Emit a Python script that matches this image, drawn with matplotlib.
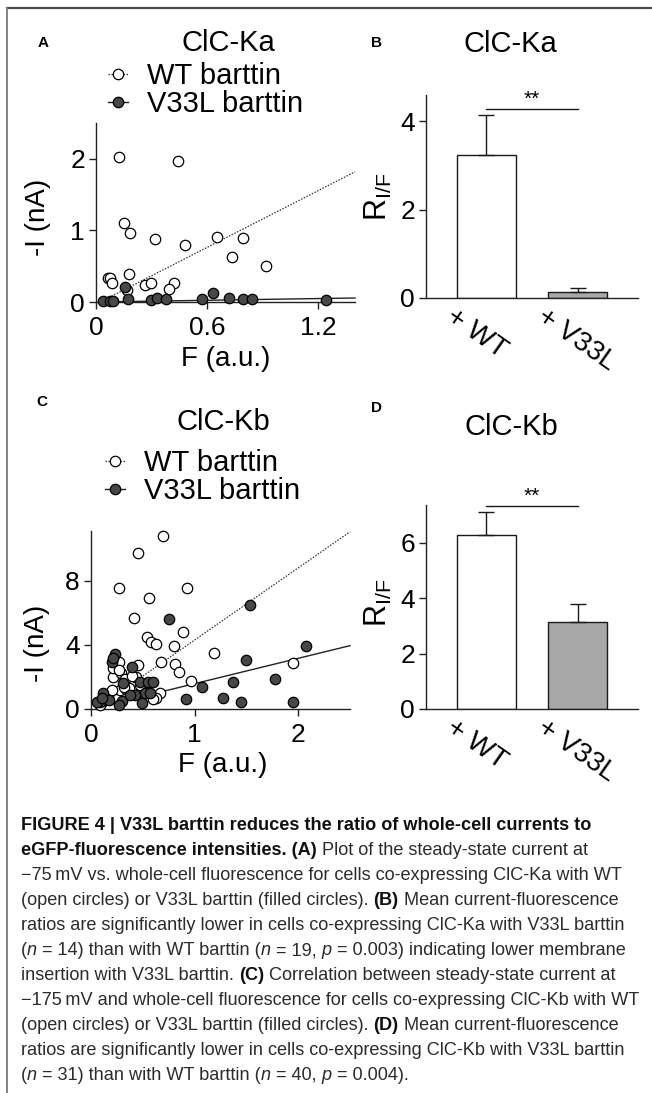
import numpy as np
import matplotlib
matplotlib.use("Agg")
import matplotlib.pyplot as plt
from matplotlib.lines import Line2D
from matplotlib.transforms import ScaledTranslation
from matplotlib import font_manager

# ---- dados ----
# Painel A: ClC-Ka, corrente x fluorescencia
ka_wt_f = [0.126, 0.441, 0.150, 0.184, 0.318, 0.479, 0.654, 0.797, 0.735, 0.918,
           0.063, 0.075, 0.089, 0.181, 0.165, 0.264, 0.296, 0.423, 0.396]
ka_wt_i = [2.02, 1.97, 1.10, 0.97, 0.88, 0.80, 0.91, 0.90, 0.63, 0.50,
           0.34, 0.33, 0.27, 0.39, 0.17, 0.24, 0.27, 0.27, 0.18]
ka_v33l_f = [0.036, 0.075, 0.090, 0.157, 0.175, 0.296, 0.329, 0.378, 0.575, 0.631,
             0.717, 0.797, 0.844, 1.241]
ka_v33l_i = [0.02, 0.02, 0.02, 0.21, 0.04, 0.03, 0.06, 0.04, 0.04, 0.12,
             0.05, 0.04, 0.04, 0.03]
ka_wt_fit = [1.32, -0.03]     # inclinacao, intercepto
ka_v33l_fit = [0.04, 0.0]
ka_fit_range = [0.04, 1.4]

# Painel C: ClC-Kb
kb_wt_f = [0.694, 0.454, 0.269, 0.928, 0.560, 0.413, 0.886, 0.544, 0.576, 0.630,
           0.800, 1.190, 0.269, 0.454, 0.672, 0.810, 0.848, 0.966, 1.950, 0.662,
           0.630, 0.214, 0.285, 0.333, 0.438, 0.278, 0.214, 0.397, 0.342, 0.487,
           0.106, 0.090, 0.477, 0.200, 0.545, 0.268, 0.365, 0.116, 0.316, 0.600]
kb_wt_i = [10.77, 9.73, 7.54, 7.54, 6.92, 5.67, 4.83, 4.52, 4.15, 4.04,
           3.90, 3.52, 2.90, 2.75, 2.96, 2.79, 2.33, 1.75, 2.85, 1.02,
           0.67, 2.02, 2.23, 1.85, 2.02, 1.19, 2.54, 2.06, 1.23, 1.19,
           0.46, 0.25, 1.50, 1.19, 1.04, 2.44, 1.29, 0.56, 1.40, 0.62]
kb_v33l_f = [1.530, 0.752, 1.494, 2.080, 1.776, 1.372, 1.072, 0.918, 1.270, 1.452,
             1.945, 0.230, 0.198, 0.210, 0.397, 0.310, 0.477, 0.550, 0.598, 0.518,
             0.422, 0.566, 0.493, 0.300, 0.269, 0.118, 0.086, 0.176, 0.061, 0.105,
             0.380]
kb_v33l_i = [6.46, 5.63, 3.06, 3.90, 1.88, 1.71, 1.40, 0.63, 0.67, 0.42,
             0.42, 3.44, 2.96, 3.15, 2.65, 1.60, 1.67, 1.67, 1.71, 0.98,
             0.88, 0.98, 0.40, 0.50, 0.25, 0.98, 0.46, 0.56, 0.42, 0.70,
             0.87]
kb_wt_fit = [4.5, -0.2]
kb_v33l_fit = [1.58, 0.0]
kb_fit_range = [0.05, 2.5]

# Paineis B e D: razao I/F (media + SEM)
grupos = ["+ WT", "+ V33L"]
ka_ratio = [3.25, 0.13]
ka_sem = [0.90, 0.09]
kb_ratio = [6.27, 3.16]
kb_sem = [0.83, 0.64]

W, H = 652, 1093
FONTE = ["Liberation Sans", "DejaVu Sans"]
plt.rcParams["font.family"] = FONTE
plt.rcParams["axes.linewidth"] = 1.0

fig = plt.figure(figsize=(W / 100, H / 100), dpi=100)


def eixo_px(x0, x1, y_base, y_topo):
    # posicao dos eixos em pixels (y contado de cima)
    return fig.add_axes([x0 / W, 1 - y_base / H, (x1 - x0) / W, (y_base - y_topo) / H])


def estilo_eixo(ax):
    for lado in ["top", "right"]:
        ax.spines[lado].set_visible(False)
    for lado in ["left", "bottom"]:
        ax.spines[lado].set_color("#222222")
    ax.tick_params(direction="out", length=5, width=1.0, colors="#222222",
                   labelsize=19, labelcolor="black")


def painel_dispersao(ax, wt_f, wt_i, v_f, v_i, wt_fit, v_fit, faixa):
    xs = np.array(faixa)
    ax.plot(xs, wt_fit[0] * xs + wt_fit[1], color="#333333", lw=0.9,
            ls=(0, (1.2, 1.2)), clip_on=False, zorder=2)
    ax.plot(xs, v_fit[0] * xs + v_fit[1], color="#222222", lw=1.0,
            clip_on=False, zorder=2)
    ax.plot(wt_f, wt_i, "o", mfc="white", mec="black", ms=7.5, mew=0.9,
            clip_on=False, zorder=3)
    ax.plot(v_f, v_i, "o", mfc="#474747", mec="black", ms=7.5, mew=0.9,
            clip_on=False, zorder=4)
    estilo_eixo(ax)
    ax.tick_params(axis="x", pad=5)
    ax.tick_params(axis="y", pad=3)
    ax.set_xlabel("F (a.u.)", fontsize=20)
    ax.set_ylabel("-I (nA)", fontsize=20)


def legenda(x_px, y_px):
    h_wt = Line2D([], [], color="#333333", lw=0.9, ls=(0, (1.2, 1.2)),
                  marker="o", mfc="white", mec="black", ms=7.5, mew=0.9)
    h_v = Line2D([], [], color="#222222", lw=1.0,
                 marker="o", mfc="#474747", mec="black", ms=7.5, mew=0.9)
    fig.legend([h_wt, h_v], ["WT barttin", "V33L barttin"], loc="center left",
               bbox_to_anchor=(x_px / W, 1 - y_px / H), frameon=False,
               fontsize=21, handlelength=0.7, handletextpad=0.65,
               labelspacing=0.0, borderpad=0, borderaxespad=0)


def painel_barras(ax, medias, sems, y_max, yticks, y_sig):
    pos = np.arange(len(grupos))
    ax.bar(pos, medias, width=0.65, color=["white", "#a8a8a8"],
           edgecolor="#1a1a1a", linewidth=1.0, zorder=2)
    ax.errorbar(pos, medias, yerr=[np.zeros(len(sems)), sems], fmt="none",
                ecolor="#1a1a1a", elinewidth=1.0, capsize=6, capthick=1.0, zorder=3)
    ax.set_xlim(-0.66, 1.66)
    ax.set_ylim(0, y_max)
    ax.set_yticks(yticks)
    estilo_eixo(ax)
    ax.tick_params(axis="y", pad=3)
    ax.set_xticks(pos)
    ax.set_xticklabels(grupos, fontsize=20, rotation=-35, ha="left", va="top",
                       rotation_mode="anchor")
    ax.tick_params(axis="x", length=0, pad=4)
    desloc = ScaledTranslation(-30 / 100, 0, fig.dpi_scale_trans)
    for rot in ax.get_xticklabels():
        rot.set_transform(rot.get_transform() + desloc)
    ax.plot(pos, [y_sig, y_sig], color="#1a1a1a", lw=1.0, clip_on=False)
    ax.text(pos.mean(), y_sig, "**", ha="center", va="bottom", fontsize=15,
            clip_on=False)
    ax.set_ylabel(r"$\mathregular{R_{I/F}}$", fontsize=22)


# ---- painel A ----
ax_a = eixo_px(96, 355, 302, 123)
painel_dispersao(ax_a, ka_wt_f, ka_wt_i, ka_v33l_f, ka_v33l_i,
                 ka_wt_fit, ka_v33l_fit, ka_fit_range)
ax_a.set_xlim(0, 1.4)
ax_a.set_ylim(0, 2.5)
ax_a.set_xticks([0, 0.6, 1.2])
ax_a.set_xticklabels(["0", "0.6", "1.2"])
ax_a.set_yticks([0, 1, 2])
ax_a.xaxis.set_label_coords(0.5, -0.245)
ax_a.yaxis.set_label_coords(-0.175, 0.475)
legenda(108, 90)

# ---- painel B ----
ax_b = eixo_px(426, 638, 298, 95)
painel_barras(ax_b, ka_ratio, ka_sem, 4.6, [0, 2, 4], 4.29)
ax_b.yaxis.set_label_coords(-0.15, 0.5)

# ---- painel C ----
ax_c = eixo_px(91, 350, 709, 531)
painel_dispersao(ax_c, kb_wt_f, kb_wt_i, kb_v33l_f, kb_v33l_i,
                 kb_wt_fit, kb_v33l_fit, kb_fit_range)
ax_c.set_xlim(0, 2.5)
ax_c.set_ylim(0, 11.1)
ax_c.set_xticks([0, 1, 2])
ax_c.set_yticks([0, 4, 8])
ax_c.xaxis.set_label_coords(0.51, -0.24)
ax_c.yaxis.set_label_coords(-0.16, 0.37)
legenda(105, 477)

# ---- painel D ----
ax_d = eixo_px(426, 638, 709, 505)
painel_barras(ax_d, kb_ratio, kb_sem, 7.37, [0, 2, 4, 6], 7.35)
ax_d.yaxis.set_label_coords(-0.15, 0.52)

# titulos e letras
for txt, x, y in [("ClC-Ka", 228, 43), ("ClC-Ka", 510, 44),
                  ("ClC-Kb", 223, 422), ("ClC-Kb", 511, 427)]:
    fig.text(x / W, 1 - y / H, txt, ha="center", va="center", fontsize=21)
for txt, x, y in [("A", 43, 43), ("B", 377, 43), ("C", 42, 402), ("D", 377, 408)]:
    fig.text(x / W, 1 - y / H, txt, ha="center", va="center", fontsize=11,
             fontweight="bold")

# moldura
fig.add_artist(Line2D([7 / W, 1], [1 - 8 / H, 1 - 8 / H], transform=fig.transFigure,
                      color="#4a4a4a", lw=1.6))
fig.add_artist(Line2D([7 / W, 7 / W], [0, 1 - 8 / H], transform=fig.transFigure,
                      color="#7a7a7a", lw=1.3))

# ---- legenda da figura ----
nomes = {f.name for f in font_manager.fontManager.ttflist}
if "Liberation Sans Narrow" in nomes:
    fonte_leg = ["Liberation Sans Narrow", "DejaVu Sans"]
    tam_leg = 15
else:
    fonte_leg = ["Liberation Sans", "DejaVu Sans"]
    tam_leg = 13.05

linhas = [
    [("FIGURE 4 | V33L barttin reduces the ratio of whole-cell currents to", "b")],
    [("eGFP-fluorescence intensities. (A)", "b"), (" Plot of the steady-state current at", "r")],
    [("\u221275\u2009mV vs. whole-cell fluorescence for cells co-expressing ClC-Ka with WT", "r")],
    [("(open circles) or V33L barttin (filled circles). ", "r"), ("(B)", "b"),
     (" Mean current-fluorescence", "r")],
    [("ratios are significantly lower in cells co-expressing ClC-Ka with V33L barttin", "r")],
    [("(", "r"), ("n", "i"), (" = 14) than with WT barttin (", "r"), ("n", "i"),
     (" = 19, ", "r"), ("p", "i"), (" = 0.003) indicating lower membrane", "r")],
    [("insertion with V33L barttin. ", "r"), ("(C)", "b"),
     (" Correlation between steady-state current at", "r")],
    [("\u2212175\u2009mV and whole-cell fluorescence for cells co-expressing ClC-Kb with WT", "r")],
    [("(open circles) or V33L barttin (filled circles). ", "r"), ("(D)", "b"),
     (" Mean current-fluorescence", "r")],
    [("ratios are significantly lower in cells co-expressing ClC-Kb with V33L barttin", "r")],
    [("(", "r"), ("n", "i"), (" = 31) than with WT barttin (", "r"), ("n", "i"),
     (" = 40, ", "r"), ("p", "i"), (" = 0.004).", "r")],
]

renderer = fig.canvas.get_renderer()


def largura(s, kw):
    # mede com marcadores nas pontas para contar os espacos
    t1 = fig.text(0, 0, "|" + s + "|", **kw)
    t2 = fig.text(0, 0, "||", **kw)
    w = t1.get_window_extent(renderer).width - t2.get_window_extent(renderer).width
    t1.remove()
    t2.remove()
    return w


estilos = {
    "r": dict(fontweight="normal", fontstyle="normal", color="#2b2b2b"),
    "b": dict(fontweight="bold", fontstyle="normal", color="#111111"),
    "i": dict(fontweight="normal", fontstyle="italic", color="#2b2b2b"),
}
y0, passo = 826, 24.9
for k, pedacos in enumerate(linhas):
    x = 21.0
    y = y0 + k * passo
    for s, est in pedacos:
        kw = dict(family=fonte_leg, fontsize=tam_leg, va="center", ha="left", **estilos[est])
        fig.text(x / W, 1 - y / H, s, **kw)
        x += largura(s, kw)

fig.savefig("out.png", dpi=100)
